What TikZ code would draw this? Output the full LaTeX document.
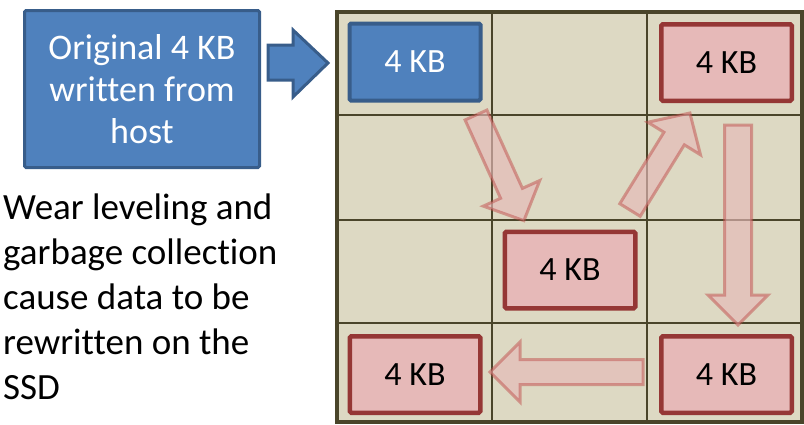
\documentclass[tikz,border=0pt]{standalone}
\usepackage{fontspec}
\setmainfont{Carlito}[Ligatures=NoCommon]
\definecolor{bluefill}{HTML}{4F81BD}
\definecolor{blueline}{HTML}{385D8A}
\definecolor{redfill}{HTML}{E6B9B8}
\definecolor{redline}{HTML}{953735}
\definecolor{gridfill}{HTML}{DDD9C3}
\definecolor{gridline}{HTML}{4A452A}
\definecolor{arrowline}{HTML}{C0504D}
\tikzset{
  x=1pt, y=1pt,
  hostbox/.style={draw=blueline, line width=3pt, fill=bluefill, text=white,
    font=\fontsize{36}{42}\selectfont, align=center, rounded corners=1.5pt,
    minimum width=235pt, minimum height=157pt, inner sep=0pt},
  bluekb/.style={draw=blueline, line width=4pt, fill=bluefill, text=white, rounded corners=1.5pt,
    font=\fontsize{34}{40}\selectfont, minimum width=131pt, minimum height=77pt, inner sep=0pt},
  redkb/.style={draw=redline, line width=4.5pt, fill=redfill, text=black, rounded corners=1.5pt,
    font=\fontsize{34}{40}\selectfont, minimum width=130.5pt, minimum height=76.5pt, inner sep=0pt},
  moveArrow/.style={draw=arrowline, draw opacity=0.5, line width=3pt,
    fill=redfill, fill opacity=0.65, line join=miter},
  hostArrow/.style={draw=blueline, line width=3pt, fill=bluefill, line join=miter},
  caption/.style={font=\fontsize{37}{45}\selectfont, align=left, inner sep=0pt, text=black}
}
% #1 start, #2 angle, #3 length, #4 shaft half width, #5 head half width, #6 style
\newcommand{\blockarrow}[6]{%
  \begin{scope}[shift={#1}, rotate=#2]
    \draw[#6] (0,-#4) -- ({#3-30},-#4) -- ({#3-30},-#5) -- (#3,0)
      -- ({#3-30},#5) -- ({#3-30},#4) -- (0,#4) -- cycle;
  \end{scope}}
\begin{document}
\begin{tikzpicture}
\useasboundingbox (0,0) rectangle (804,-424);
% grid
\fill[gridfill] (337,-12) rectangle (802,-422);
\draw[gridline, line width=1.5pt] (492,-12) -- (492,-422) (647,-12) -- (647,-422)
  (337,-115) -- (802,-115) (337,-220) -- (802,-220) (337,-323) -- (802,-323);
\draw[gridline, line width=4pt] (337,-12) rectangle (802,-422);
% host box and arrow
\node[hostbox] (host) at (142,-89) {Original 4 KB\\written from\\host};
\draw[hostArrow] (268,-45) -- (293,-45) -- (293,-30) -- (328,-63) -- (293,-97) -- (293,-80) -- (268,-80) -- cycle;
% blocks
\node[bluekb] (b0) at (415,-62) {4 KB};
\node[redkb] (b1) at (726.5,-62.5) {4 KB};
\node[redkb] (b2) at (570,-270) {4 KB};
\node[redkb] (b3) at (415,-374.5) {4 KB};
\node[redkb] (b4) at (726.5,-374.5) {4 KB};
% moving arrows
\blockarrow{(476,-115)}{-65.6}{116}{12}{31}{moveArrow}
\blockarrow{(630,-210)}{58.3}{114}{12}{31}{moveArrow}
\blockarrow{(738,-125)}{-90}{200}{13.5}{30}{moveArrow}
\blockarrow{(643,-372)}{180}{153}{12.5}{30}{moveArrow}
% caption
\node[caption, anchor=north west] (cap) at (3,-194) {Wear leveling and\\garbage collection\\cause data to be\\rewritten on the\\SSD};
\end{tikzpicture}
\end{document}
